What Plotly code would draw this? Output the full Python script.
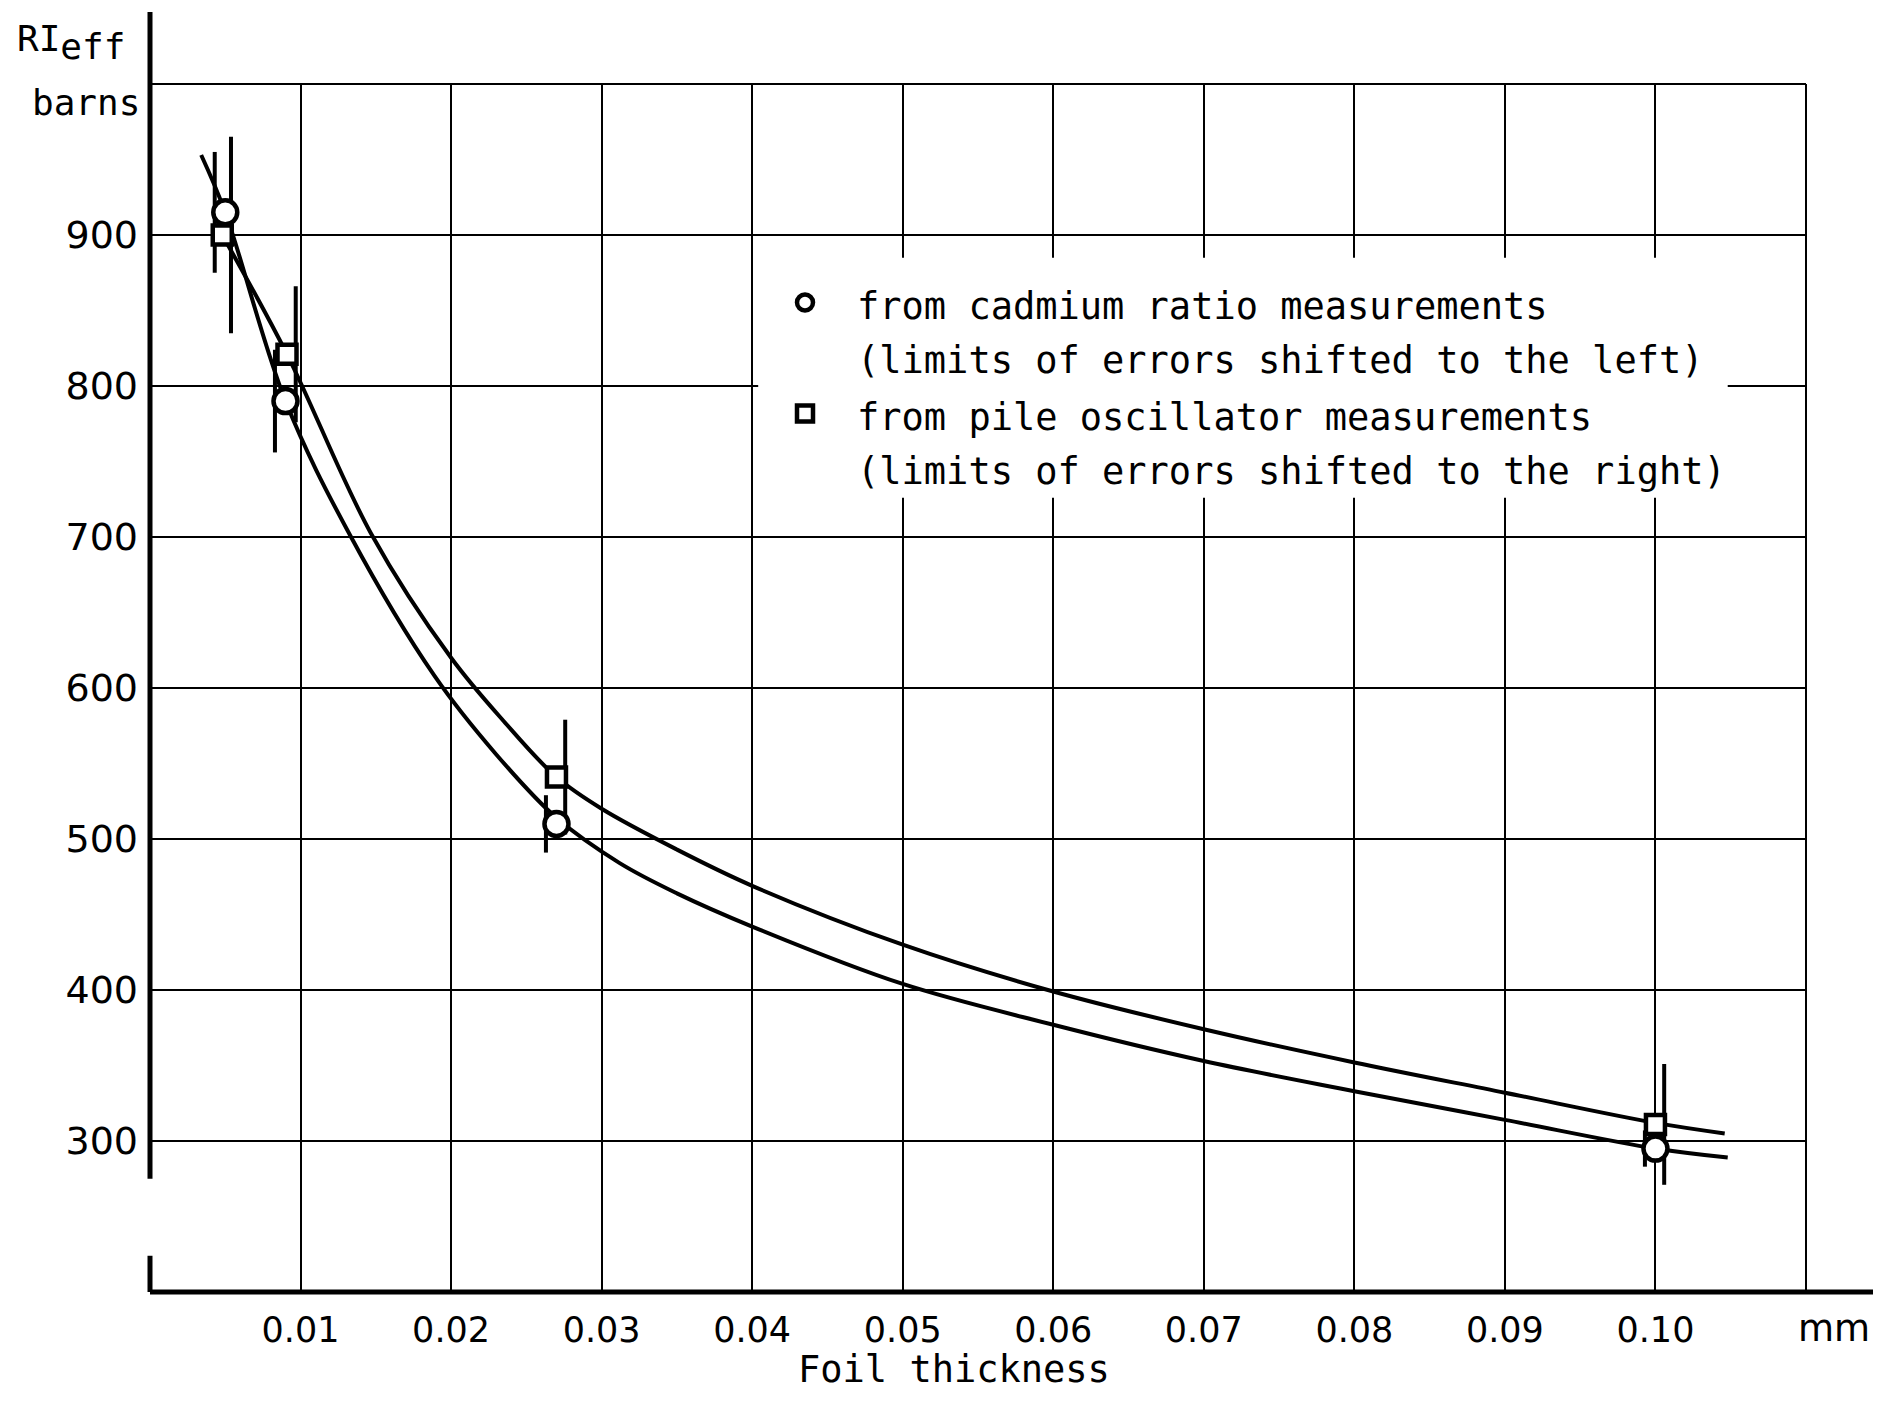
import plotly.graph_objects as go

# ---------------- data ----------------
x_ticks = [0.01, 0.02, 0.03, 0.04, 0.05, 0.06, 0.07, 0.08, 0.09, 0.10]
x_tick_labels = ["0.01", "0.02", "0.03", "0.04", "0.05", "0.06", "0.07", "0.08", "0.09", "0.10"]
y_ticks = [300, 400, 500, 600, 700, 800, 900]
y_tick_labels = ["300", "400", "500", "600", "700", "800", "900"]

# cadmium ratio measurements (circles)
thickness_cd = [0.0050, 0.0090, 0.0270, 0.1000]
ri_cd = [915, 790, 510, 295]
err_cd = [40, 34, 19, 12]

# pile oscillator measurements (squares)
thickness_po = [0.0048, 0.0091, 0.0270, 0.1000]
ri_po = [900, 821, 541, 311]
err_po = [65, 45, 38, 40]

# hand-drawn fitted curves
curve_cd_x = [0.0034, 0.0050, 0.0090, 0.0133, 0.0189, 0.0230, 0.0270, 0.0312, 0.0350,
              0.0400, 0.0500, 0.0600, 0.0700, 0.0800, 0.0900, 0.1000, 0.1048]
curve_cd_y = [953, 915, 790, 701, 608, 556, 514, 484, 464,
              442, 404, 377, 353, 333, 314, 295, 289]
curve_po_x = [0.0048, 0.0091, 0.0147, 0.0200, 0.0235, 0.0270, 0.0300, 0.0350,
              0.0400, 0.0500, 0.0600, 0.0700, 0.0800, 0.0900, 0.1000, 0.1046]
curve_po_y = [900, 821, 702, 620, 578, 541, 520, 493,
              469, 430, 399, 374, 352, 332, 312, 305]

legend_cd = ["from cadmium ratio measurements", "(limits of errors shifted to the left)"]
legend_po = ["from pile oscillator measurements", "(limits of errors shifted to the right)"]

# ---------------- styles ----------------
CD_SHIFT = -0.0007   # error bars drawn left of circles
PO_SHIFT = 0.00058   # error bars drawn right of squares
INK = "black"
MONO = "DejaVu Sans Mono"
SANS = "DejaVu Sans"
LEG_TXT = 37


def legend_name(lines):
    return "<br>".join("<span style='font-size:%dpx'>%s</span>" % (LEG_TXT, s) for s in lines)


fig = go.Figure()

fig.add_trace(go.Scatter(x=curve_po_x, y=curve_po_y, mode="lines",
                         line=dict(color=INK, width=4, shape="spline", smoothing=1.0),
                         showlegend=False, hoverinfo="skip"))
fig.add_trace(go.Scatter(x=curve_cd_x, y=curve_cd_y, mode="lines",
                         line=dict(color=INK, width=4, shape="spline", smoothing=1.0),
                         showlegend=False, hoverinfo="skip"))

fig.add_trace(go.Scatter(x=[v + CD_SHIFT for v in thickness_cd], y=ri_cd, mode="markers",
                         marker=dict(size=1, color="rgba(0,0,0,0)"),
                         error_y=dict(type="data", array=err_cd, visible=True,
                                      color=INK, thickness=4, width=0),
                         showlegend=False, hoverinfo="skip"))
fig.add_trace(go.Scatter(x=[v + PO_SHIFT for v in thickness_po], y=ri_po, mode="markers",
                         marker=dict(size=1, color="rgba(0,0,0,0)"),
                         error_y=dict(type="data", array=err_po, visible=True,
                                      color=INK, thickness=4, width=0),
                         showlegend=False, hoverinfo="skip"))

fig.add_trace(go.Scatter(x=thickness_cd, y=ri_cd, mode="markers", name=legend_name(legend_cd),
                         marker=dict(symbol="circle", size=24, color="white",
                                     line=dict(color=INK, width=4.5))))
fig.add_trace(go.Scatter(x=thickness_po, y=ri_po, mode="markers", name=legend_name(legend_po),
                         marker=dict(symbol="square", size=19, color="white",
                                     line=dict(color=INK, width=4.5))))

# page geometry (browser body margin of 8 px is compensated)
OFF = 8
W, H = 1881 - 2 * OFF, 1401 - 2 * OFF
ML, MT = 150 - OFF, 84 - OFF
PW, PH = 1656, 1208
MR, MB = W - ML - PW, H - MT - PH


def px_x(px):
    return (px - OFF - ML) / PW


def px_y(py):
    return (MT + PH - (py - OFF)) / PH


shapes = [
    # white panel behind the legend interrupting the grid
    dict(type="rect", xref="x", yref="y", x0=0.0404, x1=0.1048, y0=726, y1=885,
         fillcolor="white", line=dict(width=0), layer="between"),
    # frame top / right
    dict(type="line", xref="paper", yref="paper", x0=0, x1=1, y0=1, y1=1,
         line=dict(color=INK, width=2)),
    dict(type="line", xref="paper", yref="paper", x0=1, x1=1, y0=0, y1=1,
         line=dict(color=INK, width=2)),
    # broken y axis
    dict(type="line", xref="paper", yref="paper", x0=0, x1=0, y0=(275 - 200) / 800, y1=px_y(12),
         line=dict(color=INK, width=5)),
    dict(type="line", xref="paper", yref="paper", x0=0, x1=0, y0=0, y1=(224 - 200) / 800,
         line=dict(color=INK, width=5)),
    # x axis running to the edge
    dict(type="line", xref="paper", yref="paper", x0=0, x1=px_x(1881), y0=0, y1=0,
         line=dict(color=INK, width=5)),
]

annotations = [
    dict(text="RI<sub><span style='font-size:36px'>eff</span></sub>", xref="paper", yref="paper",
         x=px_x(15), y=px_y(42), xanchor="left", yanchor="middle", showarrow=False,
         font=dict(family=MONO, size=36, color=INK)),
    dict(text="barns", xref="paper", yref="paper",
         x=px_x(142), y=px_y(102), xanchor="right", yanchor="middle", showarrow=False,
         font=dict(family=MONO, size=36, color=INK)),
    dict(text="Foil thickness", xref="paper", yref="paper",
         x=px_x(954), y=px_y(1369), xanchor="center", yanchor="middle", showarrow=False,
         font=dict(family=MONO, size=37, color=INK)),
    dict(text="mm", xref="paper", yref="paper",
         x=px_x(1834), y=px_y(1328), xanchor="center", yanchor="middle", showarrow=False,
         font=dict(family=SANS, size=37, color=INK)),
]

fig.update_layout(
    width=W, height=H,
    margin=dict(l=ML, r=MR, t=MT, b=MB, pad=0),
    paper_bgcolor="white", plot_bgcolor="white",
    shapes=shapes, annotations=annotations,
    showlegend=True,
    legend=dict(x=px_x(753), y=px_y(269), xanchor="left", yanchor="top",
                bgcolor="rgba(0,0,0,0)", borderwidth=0,
                font=dict(family=MONO, size=41.5, color=INK),
                valign="top", itemwidth=94, tracegroupgap=0),
    xaxis=dict(range=[0, 0.11], tickvals=x_ticks, ticktext=x_tick_labels,
               showgrid=True, gridcolor=INK, gridwidth=2, zeroline=False, showline=False,
               ticks="", ticklabelstandoff=14,
               tickfont=dict(family=SANS, size=35, color=INK)),
    yaxis=dict(range=[200, 1000], tickvals=y_ticks, ticktext=y_tick_labels,
               showgrid=True, gridcolor=INK, gridwidth=2, zeroline=False, showline=False,
               ticks="", ticklabelstandoff=11,
               tickfont=dict(family=SANS, size=38, color=INK)),
)

fig.write_html("out.html")
